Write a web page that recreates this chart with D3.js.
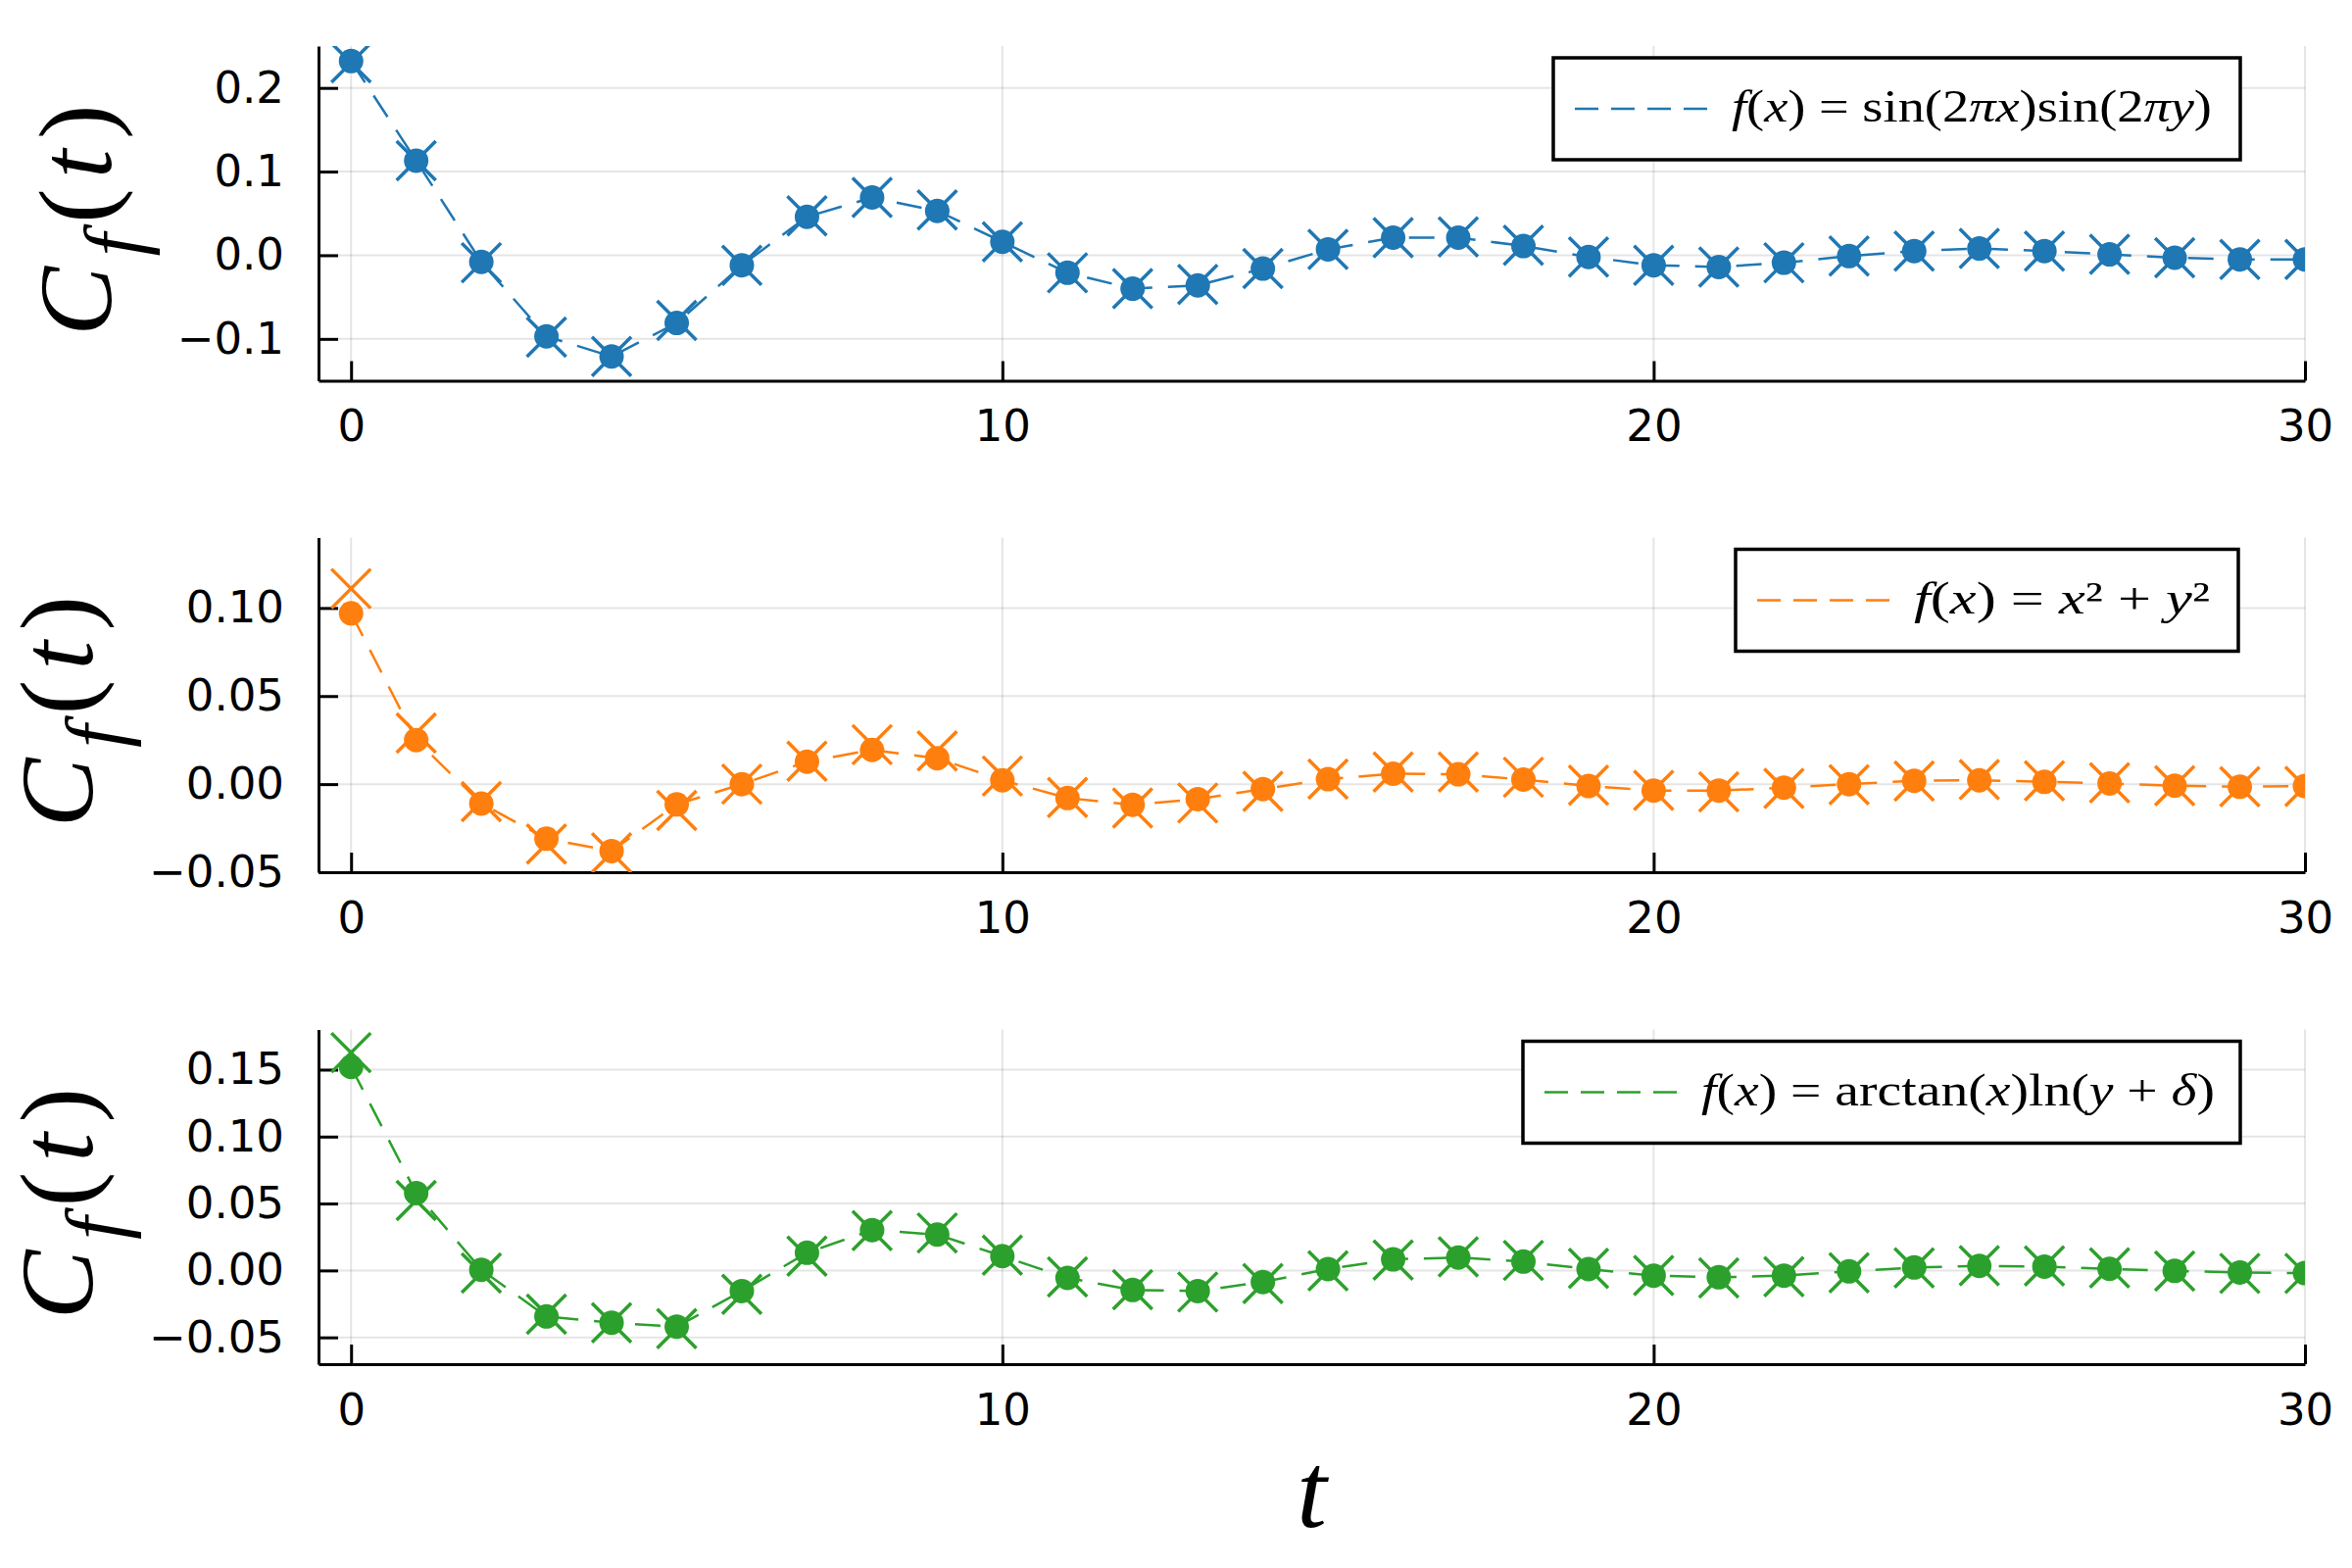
<!doctype html>
<html>
<head>
<meta charset="utf-8">
<script src="https://d3js.org/d3.v7.min.js"></script>
<style>
  body{ margin:0; background:#fff; }
  .tick text{ font-family:"DejaVu Sans"; font-size:45px; fill:#000; }
  .tick line{ stroke:#000; stroke-width:3; }
  path.domain{ stroke:#000; stroke-width:3; fill:none; }
  .grid line{ stroke:#000; stroke-opacity:0.1; stroke-width:2; }
  .math{ font-family:"Liberation Serif"; fill:#000; }
</style>
</head>
<body>
<svg id="chart" width="2400" height="1600"></svg>
<script>
// lag values on the x axis
var lags = [0,1,2,3,4,5,6,7,8,9,10,11,12,13,14,15,16,17,18,19,20,21,22,23,24,25,26,27,28,29,30];

// f(x) = sin(2 pi x) sin(2 pi y)
var sinDots  = [0.232,0.113,-0.008,-0.097,-0.121,-0.081,-0.012,0.046,0.069,0.053,0.016,-0.021,-0.040,-0.036,-0.016,0.007,0.021,0.021,0.011,-0.002,-0.012,-0.014,-0.009,-0.001,0.005,0.008,0.005,0.001,-0.003,-0.005,-0.005];
var sinCross = [0.230,0.113,-0.009,-0.098,-0.121,-0.078,-0.012,0.047,0.069,0.054,0.016,-0.021,-0.040,-0.035,-0.016,0.007,0.021,0.022,0.012,-0.002,-0.012,-0.014,-0.009,-0.001,0.005,0.008,0.005,0.001,-0.003,-0.005,-0.005];

// f(x) = x^2 + y^2
var sqDots  = [0.097,0.025,-0.011,-0.031,-0.038,-0.0115,0.000,0.0128,0.0194,0.0147,0.0022,-0.0079,-0.0117,-0.0085,-0.0028,0.0028,0.0059,0.0056,0.0026,-0.0011,-0.0037,-0.0037,-0.0020,0.0000,0.0019,0.0022,0.0013,0.0004,-0.0009,-0.0015,-0.0011];
var sqCross = [0.111,0.029,-0.010,-0.034,-0.039,-0.015,0.000,0.0130,0.0224,0.0189,0.0046,-0.0076,-0.0136,-0.0107,-0.0041,0.0028,0.0069,0.0069,0.0039,-0.0006,-0.0035,-0.0044,-0.0024,-0.0004,0.0017,0.0026,0.0019,0.0008,-0.0009,-0.0015,-0.0013];

// f(x) = arctan(x) ln(y + delta)
var atDots  = [0.152,0.0578,0.0005,-0.0344,-0.039,-0.042,-0.0154,0.0132,0.0302,0.0268,0.0107,-0.0056,-0.0146,-0.0154,-0.0086,0.0010,0.0083,0.0097,0.0066,0.0010,-0.0039,-0.0051,-0.0039,-0.0007,0.0022,0.0034,0.0029,0.0012,-0.0003,-0.0015,-0.0020];
var atCross = [0.1627,0.0522,-0.002,-0.0327,-0.039,-0.0435,-0.0178,0.0107,0.0298,0.0280,0.0114,-0.0049,-0.0144,-0.0161,-0.0098,-0.0002,0.0078,0.0102,0.0075,0.0015,-0.0037,-0.0056,-0.0047,-0.0017,0.0019,0.0036,0.0034,0.0019,-0.0005,-0.0022,-0.0022];

var xTicks = [0,10,20,30];
var yTicks1 = [-0.1,0.0,0.1,0.2];
var yTicks2 = [-0.05,0.00,0.05,0.10];
var yTicks3 = [-0.05,0.00,0.05,0.10,0.15];

// legend labels: [text, italic]
var label1 = [["f",1],["(",0],["x",1],[")",0],[" = sin(2",0],["π",1],["x",1],[")sin(2",0],["π",1],["y",1],[")",0]];
var label2 = [["f",1],["(",0],["x",1],[")",0],[" = ",0],["x",1],["²",0],[" + ",0],["y",1],["²",0]];
var label3 = [["f",1],["(",0],["x",1],[")",0],[" = arctan(",0],["x",1],[")ln(",0],["y",1],[" + ",0],["δ",1],[")",0]];

var panels = [
  {dots:sinDots, cross:sinCross, color:"#1f77b4", yDom:[-0.15,0.25], ticks:yTicks1, fmt:".1f", top:47,
   label:label1, legX:1585, legW:701, textW:490, ylabX:113},
  {dots:sqDots, cross:sqCross, color:"#ff7f0e", yDom:[-0.05,0.14], ticks:yTicks2, fmt:".2f", top:548.5,
   label:label2, legX:1771, legW:513, textW:302, ylabX:94},
  {dots:atDots, cross:atCross, color:"#2ca02c", yDom:[-0.07,0.18], ticks:yTicks3, fmt:".2f", top:1050.5,
   label:label3, legX:1554, legW:732, textW:524, ylabX:94}
];

var left = 325, right = 2352, ph = 341.5;
var svg = d3.select('#chart');
svg.append('rect').attr('width',2400).attr('height',1600).attr('fill','#fff');

var xScale = d3.scaleLinear().domain([-0.5,30]).range([left,right]);

panels.forEach(function(p,i){
  var top = p.top, bot = p.top + ph;
  var yScale = d3.scaleLinear().domain(p.yDom).range([bot,top]);
  var g = svg.append('g');

  // grid
  var grid = g.append('g').attr('class','grid');
  grid.selectAll('line.gx').data(xTicks).enter().append('line')
    .attr('x1',d=>xScale(d)).attr('x2',d=>xScale(d)).attr('y1',top).attr('y2',bot);
  grid.selectAll('line.gy').data(p.ticks).enter().append('line')
    .attr('x1',left).attr('x2',right).attr('y1',d=>yScale(d)).attr('y2',d=>yScale(d));

  // axes
  var xAxis = d3.axisBottom(xScale).tickValues(xTicks).tickSize(-20).tickSizeOuter(0).tickPadding(30);
  var yAxis = d3.axisLeft(yScale).tickValues(p.ticks).tickSize(-20).tickSizeOuter(0).tickPadding(35)
    .tickFormat(d3.format(p.fmt));
  g.append('g').attr('transform','translate(0,'+bot+')').call(xAxis);
  g.append('g').attr('transform','translate('+left+',0)').call(yAxis);
  g.selectAll('.tick text').attr('font-family',null).attr('font-size',null);

  // clip to plot area
  svg.append('clipPath').attr('id','clip'+i).append('rect')
    .attr('x',left).attr('y',top).attr('width',right-left).attr('height',ph);
  var plot = g.append('g').attr('clip-path','url(#clip'+i+')');

  var line = d3.line().x((d,j)=>xScale(lags[j])).y(d=>yScale(d));
  plot.append('path').datum(p.dots).attr('d',line)
    .attr('fill','none').attr('stroke',p.color).attr('stroke-width',2.5)
    .attr('stroke-dasharray','26,16');
  var a = 20;
  plot.selectAll('path.cross').data(p.cross).enter().append('path')
    .attr('d',function(d,j){
      var cx = xScale(lags[j]), cy = yScale(d);
      return 'M'+(cx-a)+','+(cy-a)+'L'+(cx+a)+','+(cy+a)+'M'+(cx+a)+','+(cy-a)+'L'+(cx-a)+','+(cy+a);
    })
    .attr('stroke',p.color).attr('stroke-width',3.5).attr('fill','none');
  plot.selectAll('circle').data(p.dots).enter().append('circle')
    .attr('cx',(d,j)=>xScale(lags[j])).attr('cy',d=>yScale(d)).attr('r',12.5)
    .attr('fill',p.color);

  // legend
  var ly = top + 12, lh = 104;
  g.append('rect').attr('x',p.legX).attr('y',ly).attr('width',p.legW).attr('height',lh)
    .attr('fill','#fff').attr('stroke','#000').attr('stroke-width',3.5);
  g.append('line').attr('x1',p.legX+22).attr('x2',p.legX+157)
    .attr('y1',ly+lh/2).attr('y2',ly+lh/2)
    .attr('stroke',p.color).attr('stroke-width',2.5).attr('stroke-dasharray','24,13');
  var lt = g.append('text').attr('class','math').attr('x',p.legX+182).attr('y',ly+lh/2+13)
    .attr('font-size',46).attr('textLength',p.textW).attr('lengthAdjust','spacingAndGlyphs');
  p.label.forEach(function(part){
    lt.append('tspan').text(part[0]).attr('font-style',part[1]?'italic':'normal');
  });

  // y label C_f(t)
  var yl = g.append('text').attr('class','math')
    .attr('transform','translate('+p.ylabX+','+((top+bot)/2+7)+') rotate(-90)')
    .attr('text-anchor','middle').attr('font-size',106)
    .attr('textLength',236).attr('lengthAdjust','spacing');
  yl.append('tspan').attr('font-style','italic').text('C');
  yl.append('tspan').attr('font-style','italic').attr('font-size',84).attr('dy',32).text('f');
  yl.append('tspan').attr('dy',-32).text('(');
  yl.append('tspan').attr('font-style','italic').text('t');
  yl.append('tspan').text(')');
});

// x label
svg.append('text').attr('class','math').attr('x',(left+right)/2).attr('y',1558)
  .attr('text-anchor','middle').attr('font-size',110).attr('font-style','italic').text('t');
</script>
</body>
</html>
